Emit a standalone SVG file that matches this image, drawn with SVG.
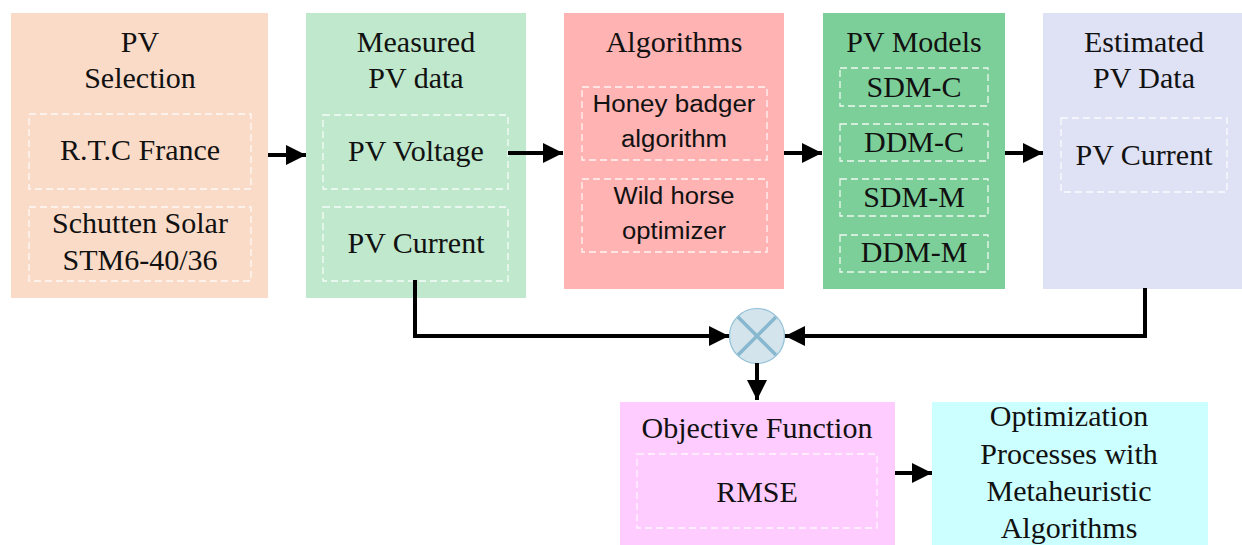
<svg xmlns="http://www.w3.org/2000/svg" width="1242" height="545" viewBox="0 0 1242 545">
<style>
.t{font-family:"Liberation Serif","Times New Roman",serif;font-size:30px;fill:#111;text-anchor:middle}
.s{font-family:"Liberation Sans",Arial,sans-serif;font-size:23px;fill:#111;text-anchor:middle}
.d{fill:none;stroke:#ffffff;stroke-opacity:0.85;stroke-width:1.3;stroke-dasharray:7 4}
.c{fill:none;stroke:#000;stroke-width:4;stroke-linejoin:miter}
</style>
<defs>
<marker id="ah" viewBox="0 0 20 20" refX="20" refY="10" markerWidth="20" markerHeight="20" markerUnits="userSpaceOnUse" orient="auto">
<path d="M0,0 L20,10 L0,20 Z" fill="#000"/>
</marker>
</defs>
<rect width="1242" height="545" fill="#ffffff"/>
<g id="pv-selection">
<rect x="11" y="13" width="257" height="285" fill="#fadbc8"/>
<text class="t" x="140" y="52">PV</text>
<text class="t" x="140" y="88">Selection</text>
<rect class="d" x="29" y="114" width="222" height="75"/>
<text class="t" x="140" y="160">R.T.C France</text>
<rect class="d" x="29" y="207" width="222" height="74"/>
<text class="t" x="140" y="233">Schutten Solar</text>
<text class="t" x="140" y="270">STM6-40/36</text>
</g>
<g id="measured">
<rect x="306" y="13" width="220" height="285" fill="#bfe8cc"/>
<text class="t" x="416" y="52">Measured</text>
<text class="t" x="416" y="88">PV data</text>
<rect class="d" x="323" y="115" width="185" height="74"/>
<text class="t" x="416" y="161">PV Voltage</text>
<rect class="d" x="323" y="207" width="185" height="74"/>
<text class="t" x="416" y="253">PV Current</text>
</g>
<g id="algorithms">
<rect x="564" y="13" width="220" height="276" fill="#ffb3b3"/>
<text class="t" x="674" y="52">Algorithms</text>
<rect class="d" x="582" y="87" width="185" height="73"/>
<text class="s" x="674" y="112" textLength="163" lengthAdjust="spacingAndGlyphs">Honey badger</text>
<text class="s" x="674" y="147" textLength="106" lengthAdjust="spacingAndGlyphs">algorithm</text>
<rect class="d" x="582" y="179" width="185" height="73"/>
<text class="s" x="674" y="204" textLength="121" lengthAdjust="spacingAndGlyphs">Wild horse</text>
<text class="s" x="674" y="239" textLength="104" lengthAdjust="spacingAndGlyphs">optimizer</text>
</g>
<g id="pv-models">
<rect x="823" y="13" width="182" height="276" fill="#7dcf99"/>
<text class="t" x="914" y="52">PV Models</text>
<rect class="d" x="840" y="68" width="148" height="38"/>
<text class="t" x="914" y="97">SDM-C</text>
<rect class="d" x="840" y="124" width="148" height="37"/>
<text class="t" x="914" y="152">DDM-C</text>
<rect class="d" x="840" y="179" width="148" height="37"/>
<text class="t" x="914" y="207">SDM-M</text>
<rect class="d" x="840" y="235" width="148" height="37"/>
<text class="t" x="914" y="262">DDM-M</text>
</g>
<g id="estimated">
<rect x="1043" y="13" width="199" height="276" fill="#dfe1f4"/>
<text class="t" x="1144" y="52">Estimated</text>
<text class="t" x="1144" y="88">PV Data</text>
<rect class="d" x="1061" y="118" width="166" height="74"/>
<text class="t" x="1144" y="165">PV Current</text>
</g>
<g id="multiplier">
<circle cx="757" cy="336" r="27.5" fill="#d3e4ed" stroke="#92c0d6" stroke-width="1.2"/>
<path d="M738,317 L776,355 M776,317 L738,355" stroke="#88b8cf" stroke-width="3.5"/>
</g>
<g id="objective">
<rect x="620" y="402" width="275" height="143" fill="#ffccff"/>
<text class="t" x="757" y="438">Objective Function</text>
<rect class="d" x="637" y="454" width="240" height="74"/>
<text class="t" x="757" y="502">RMSE</text>
</g>
<g id="optimization">
<rect x="932" y="402" width="276" height="143" fill="#ccffff"/>
<text class="t" x="1069" y="426">Optimization</text>
<text class="t" x="1069" y="464">Processes with</text>
<text class="t" x="1069" y="501">Metaheuristic</text>
<text class="t" x="1069" y="538">Algorithms</text>
</g>
<g id="connectors">
<path class="c" d="M268,155 L306,155" marker-end="url(#ah)"/>
<path class="c" d="M508,153 L563,153" marker-end="url(#ah)"/>
<path class="c" d="M784,153 L822,153" marker-end="url(#ah)"/>
<path class="c" d="M1005,153 L1043,153" marker-end="url(#ah)"/>
<path class="c" d="M415,280 L415,336 L729,336" marker-end="url(#ah)"/>
<path class="c" d="M1145,288 L1145,336 L785,336" marker-end="url(#ah)"/>
<path class="c" d="M757,363 L757,400" marker-end="url(#ah)"/>
<path class="c" d="M895,473 L932,473" marker-end="url(#ah)"/>
</g>
</svg>
